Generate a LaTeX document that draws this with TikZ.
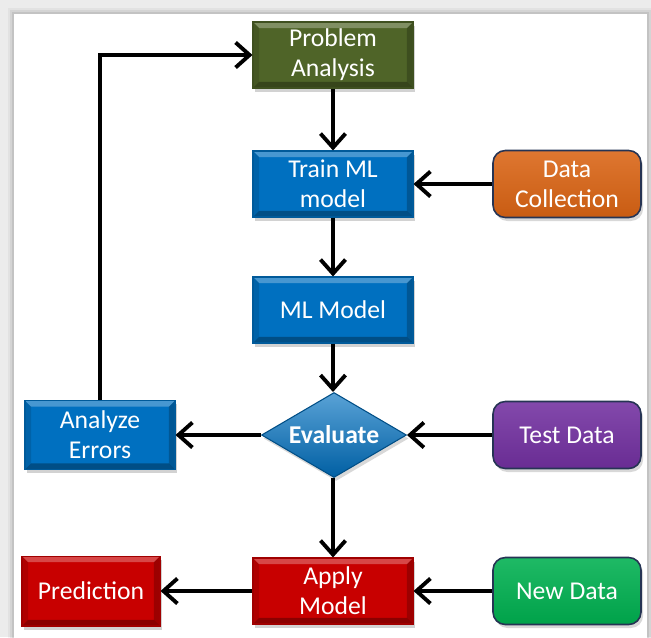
\documentclass[tikz,border=0pt]{standalone}
\usepackage{fontspec}
\setmainfont{Carlito}
\usetikzlibrary{arrows.meta,shapes.geometric,shadows}

\definecolor{olivebox}{RGB}{79,100,40}
\definecolor{bluebox}{RGB}{0,112,192}
\definecolor{orangebox}{RGB}{218,100,20}
\definecolor{purplebox}{RGB}{114,48,160}
\definecolor{redbox}{RGB}{200,0,0}
\definecolor{greenbox}{RGB}{0,176,80}
\definecolor{rimcol}{RGB}{38,52,84}
\definecolor{pagecol}{RGB}{236,236,236}

\tikzset{
  bevel/.style={path picture={
    \fill[white, opacity=0.28] (path picture bounding box.north west) -- (path picture bounding box.north east)
      -- ([xshift=-#1,yshift=-#1]path picture bounding box.north east) -- ([xshift=#1,yshift=-#1]path picture bounding box.north west) -- cycle;
    \fill[black, opacity=0.3] (path picture bounding box.south west) -- (path picture bounding box.south east)
      -- ([xshift=-#1,yshift=#1]path picture bounding box.south east) -- ([xshift=#1,yshift=#1]path picture bounding box.south west) -- cycle;
    \fill[black, opacity=0.12] (path picture bounding box.north west) -- (path picture bounding box.south west)
      -- ([xshift=#1,yshift=#1]path picture bounding box.south west) -- ([xshift=#1,yshift=-#1]path picture bounding box.north west) -- cycle;
    \fill[black, opacity=0.22] (path picture bounding box.north east) -- (path picture bounding box.south east)
      -- ([xshift=-#1,yshift=#1]path picture bounding box.south east) -- ([xshift=-#1,yshift=-#1]path picture bounding box.north east) -- cycle;
  }},
  label text/.style={text=white, align=center, font=\fontsize{14.6}{17}\selectfont},
  box/.style={rectangle, label text, fill=#1, draw=#1!80!black, line width=0.6pt,
    minimum width=3.2cm, minimum height=1.32cm, inner sep=0pt, bevel=3.5pt,
    drop shadow={opacity=0.35, shadow xshift=1.2pt, shadow yshift=-2pt}},
  source/.style={rectangle, rounded corners=7pt, label text, top color=#1!88!white, bottom color=#1!92!black,
    draw=rimcol, line width=0.9pt, minimum width=2.96cm, minimum height=1.34cm, inner sep=0pt,
    drop shadow={opacity=0.3, shadow xshift=1.2pt, shadow yshift=-2pt}},
  decision/.style={diamond, aspect=1.7, label text, top color=bluebox!65!white, bottom color=bluebox!85!black,
    draw=bluebox!70!black, line width=0.6pt, minimum width=2.9cm, minimum height=1.7cm, inner sep=0pt,
    drop shadow={opacity=0.3, shadow xshift=1.2pt, shadow yshift=-2pt}},
  flow/.style={-{Straight Barb[length=2.8mm,width=5mm]}, line width=2.2pt}
}

\begin{document}
\begin{tikzpicture}[x=0.02cm, y=-0.02cm]

\useasboundingbox (0,0) rectangle (651,637);
\fill[pagecol] (0,0) rectangle (651,637);
\foreach \d/\o in {6/0.04, 4/0.06, 2/0.08}
  \fill[black, opacity=\o] (14-\d,14-\d) rectangle (647+\d,640);
\fill[white] (14,14) rectangle (647,640);

\node[box=olivebox] (pa) at (333,55) {Problem\\Analysis};
\node[box=bluebox] (train) at (333,184) {Train ML\\model};
\node[box=bluebox] (mlm) at (333,310) {ML Model};
\node[decision] (eval) at (334,435) {\bfseries Evaluate};
\node[box=bluebox, minimum width=3cm, minimum height=1.38cm] (err) at (100,435) {Analyze\\Errors};
\node[box=redbox] (apply) at (333,591) {Apply\\Model};
\node[box=redbox, minimum width=2.76cm, minimum height=1.4cm] (pred) at (91,591) {Prediction};

\node[source=orangebox] (dc) at (567,184) {Data\\Collection};
\node[source=purplebox] (td) at (567,435) {Test Data};
\node[source=greenbox] (nd) at (567,591) {New Data};

\path[draw, flow] (pa) -- (train);
\path[draw, flow] (dc) -- (train);
\path[draw, flow] (train) -- (mlm);
\path[draw, flow] (mlm.south) -- (mlm.south |- eval.north);
\path[draw, flow] (td) -- (eval);
\path[draw, flow] (eval) -- (err);
\path[draw, flow] (eval.south -| apply.north) -- (apply.north);
\path[draw, flow] (nd) -- (apply);
\path[draw, flow] (apply) -- (pred);
\path[draw, flow] (err.north) |- (pa.west);

\end{tikzpicture}
\end{document}
